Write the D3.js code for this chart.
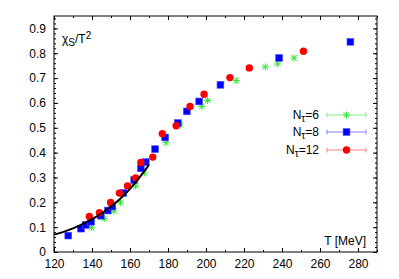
<!DOCTYPE html>
<html>
<head>
<meta charset="utf-8">
<script src="https://cdn.jsdelivr.net/npm/d3@7"></script>
<style>
  body { margin: 0; background: #fff; }
  svg { display: block; font-family: "Liberation Sans", Arial, sans-serif; }
</style>
</head>
<body>
<div id="chart"></div>
<script>
// axis ticks
var xTicks = [120, 140, 160, 180, 200, 220, 240, 260, 280];
var yTicks = [0, 0.1, 0.2, 0.3, 0.4, 0.5, 0.6, 0.7, 0.8, 0.9];

// black curve
var curveT = [120, 125, 130, 135, 140, 145, 150, 155, 160, 165, 170];
var curveV = [0.070, 0.081, 0.095, 0.112, 0.132, 0.155, 0.183, 0.215, 0.254, 0.300, 0.351];

// N_tau = 6
var nt6T = [139.8, 146.5, 151.5, 155, 163, 167.5, 179, 186.4, 197.8, 200.8, 215.9, 231.2, 237.7, 246.3];
var nt6V = [0.098, 0.135, 0.165, 0.200, 0.265, 0.318, 0.440, 0.512, 0.586, 0.610, 0.690, 0.745, 0.757, 0.781];

// N_tau = 8
var nt8T = [127.5, 134.2, 136.7, 139.5, 144.6, 148.3, 150.7, 156.5, 162.2, 165.7, 168.3, 173.2, 178.5, 185.2, 189.9, 196.4, 207.6, 238.5, 276];
var nt8V = [0.066, 0.094, 0.109, 0.122, 0.146, 0.167, 0.183, 0.238, 0.290, 0.337, 0.362, 0.414, 0.461, 0.519, 0.566, 0.606, 0.673, 0.781, 0.846];

// N_tau = 12
var nt12T = [138.6, 143.9, 149.8, 154.4, 158.7, 163, 165.7, 172, 177, 184.3, 191.6, 199, 212.6, 222.8, 251.3];
var nt12V = [0.143, 0.158, 0.199, 0.237, 0.266, 0.298, 0.360, 0.382, 0.476, 0.508, 0.586, 0.635, 0.702, 0.741, 0.808];

var legendNames = ['6', '8', '12'];

var width = 399,
	height = 279,
	margin = {left: 54, top: 16, right: 22, bottom: 27};

var svg = d3.select('#chart').append('svg')
	.attr('width', width)
	.attr('height', height);

var x = d3.scaleLinear().domain([120, 290]).range([margin.left, width - margin.right]);
var y = d3.scaleLinear().domain([0, 0.95]).range([height - margin.bottom, margin.top]);

var xMinor = d3.range(120, 291, 10);
var yMinor = d3.range(0, 0.951, 0.02);

function drawAxis(axis, pos, vals, size, labels) {
	var g = svg.append('g')
		.attr('transform', pos)
		.call(axis.tickValues(vals).tickSize(size).tickSizeOuter(0));
	if (!labels) g.selectAll('text').remove();
	g.select('.domain').remove();
	g.selectAll('line').attr('stroke', '#000');
	return g;
}

// minor ticks
drawAxis(d3.axisBottom(x), 'translate(0,' + y(0) + ')', xMinor, -2, false);
drawAxis(d3.axisTop(x), 'translate(0,' + y(0.95) + ')', xMinor, -2, false);
drawAxis(d3.axisLeft(y), 'translate(' + x(120) + ',0)', yMinor, -2, false);
drawAxis(d3.axisRight(y), 'translate(' + x(290) + ',0)', yMinor, -2, false);

// major ticks
var bx = drawAxis(d3.axisBottom(x).tickFormat(d3.format('d')).tickPadding(7), 'translate(0,' + y(0) + ')', xTicks, -4, true);
drawAxis(d3.axisTop(x), 'translate(0,' + y(0.95) + ')', xTicks, -4, false);
var ly = drawAxis(d3.axisLeft(y).tickFormat(function(d) { return d === 0 ? '0' : d3.format('.1f')(d); }).tickPadding(8), 'translate(' + x(120) + ',0)', yTicks, -4, true);
drawAxis(d3.axisRight(y), 'translate(' + x(290) + ',0)', yTicks, -4, false);

svg.selectAll('.tick text')
	.style('font-family', '"Liberation Sans", Arial, sans-serif')
	.style('font-size', '12px')
	.attr('fill', '#000');

// frame
svg.append('rect')
	.attr('x', x(120))
	.attr('y', y(0.95))
	.attr('width', x(290) - x(120))
	.attr('height', y(0) - y(0.95))
	.attr('fill', 'none')
	.attr('stroke', '#000')
	.attr('stroke-width', 1);

// marker helpers
function star(g, cx, cy, r) {
	g.append('path')
		.attr('d', 'M' + (cx - r) + ',' + cy + 'h' + (2 * r) +
			'M' + cx + ',' + (cy - r) + 'v' + (2 * r) +
			'M' + (cx - r * 0.8) + ',' + (cy - r * 0.8) + 'l' + (1.6 * r) + ',' + (1.6 * r) +
			'M' + (cx - r * 0.8) + ',' + (cy + r * 0.8) + 'l' + (1.6 * r) + ',' + (-1.6 * r))
		.attr('stroke', '#33e533')
		.attr('stroke-width', 1)
		.attr('fill', 'none');
}
function square(g, cx, cy, r) {
	g.append('rect')
		.attr('x', cx - r).attr('y', cy - r)
		.attr('width', 2 * r).attr('height', 2 * r)
		.attr('fill', '#0000ff')
		.attr('stroke', '#4d4dff')
		.attr('stroke-width', 0.6);
}
function circle(g, cx, cy, r) {
	g.append('circle')
		.attr('cx', cx).attr('cy', cy).attr('r', r)
		.attr('fill', '#ff0000');
}

var pts = svg.append('g');
nt6T.forEach(function(t, i) { star(pts, x(t), y(nt6V[i]), 3.5); });
nt8T.forEach(function(t, i) { square(pts, x(t), y(nt8V[i]), 3.4); });
nt12T.forEach(function(t, i) { circle(pts, x(t), y(nt12V[i]), 3.7); });

// black curve
var line = d3.line()
	.x(function(d, i) { return x(curveT[i]); })
	.y(function(d) { return y(d); })
	.curve(d3.curveMonotoneX);

svg.append('path')
	.datum(curveV)
	.attr('d', line)
	.attr('fill', 'none')
	.attr('stroke', '#000')
	.attr('stroke-width', 2);

// legend
var legX0 = 327, legX1 = 366, legY = [115, 132, 150];
var legColors = ['#80f080', '#8080ff', '#ff8080'];
var legMarks = [star, square, circle];
var legSizes = [3.5, 3.4, 3.7];

legendNames.forEach(function(n, i) {
	var g = svg.append('g');
	var t = g.append('text')
		.attr('x', 319)
		.attr('y', legY[i] + 4)
		.attr('text-anchor', 'end')
		.style('font-size', '12px');
	t.append('tspan').text('N');
	t.append('tspan').text('τ').attr('baseline-shift', '-25%').style('font-size', '10px');
	t.append('tspan').text('=' + n);

	g.append('path')
		.attr('d', 'M' + legX0 + ',' + legY[i] + 'H' + legX1 +
			'M' + legX0 + ',' + (legY[i] - 2.5) + 'v5' +
			'M' + legX1 + ',' + (legY[i] - 2.5) + 'v5')
		.attr('stroke', legColors[i])
		.attr('stroke-width', 1)
		.attr('fill', 'none');
	legMarks[i](g, (legX0 + legX1) / 2, legY[i], legSizes[i]);
});

// axis titles
var yl = svg.append('text')
	.attr('x', 62)
	.attr('y', 43)
	.style('font-size', '12px');
yl.append('tspan').text('χ');
yl.append('tspan').text('S').attr('baseline-shift', '-25%').style('font-size', '10px');
yl.append('tspan').text('/T');
yl.append('tspan').text('2').attr('baseline-shift', '45%').style('font-size', '10px');

svg.append('text')
	.attr('x', 366)
	.attr('y', 245)
	.attr('text-anchor', 'end')
	.style('font-size', '12px')
	.text('T [MeV]');
</script>
</body>
</html>
